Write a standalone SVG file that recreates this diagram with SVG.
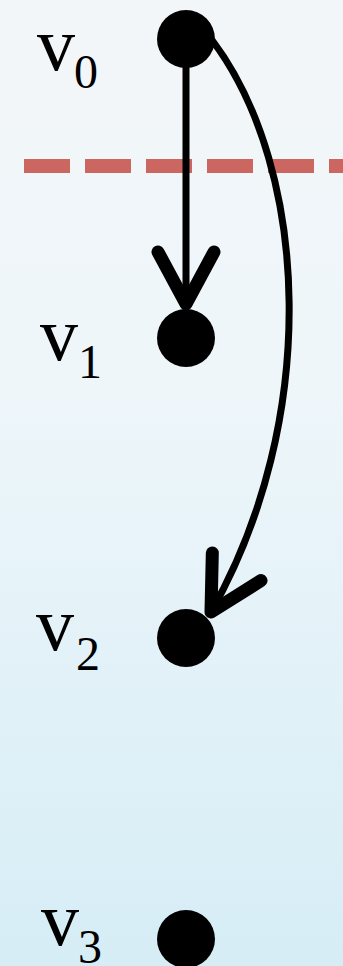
<svg xmlns="http://www.w3.org/2000/svg" width="343" height="966" viewBox="0 0 343 966">
<defs>
<linearGradient id="bg" x1="0" y1="0" x2="0" y2="1">
<stop offset="0" stop-color="#f3f6f8"/>
<stop offset="0.4" stop-color="#eef6fa"/>
<stop offset="1" stop-color="#d6edf6"/>
</linearGradient>
<marker id="arrow" markerUnits="userSpaceOnUse" viewBox="-70 -40 80 80" markerWidth="80" markerHeight="80" refX="0" refY="0" orient="auto">
<path d="M-52,-28 L0,0 L-52,28" fill="none" stroke="#000" stroke-width="13" stroke-linecap="round" stroke-linejoin="round"/>
</marker>
<style>
.node{fill:#000}
.edge{fill:none;stroke:#000;stroke-width:7}
.lbl{font-family:"Liberation Serif","Times New Roman",serif;font-size:76px;fill:#000}
.sub{font-family:"Liberation Serif","Times New Roman",serif;font-size:48px;fill:#000}
.cut{stroke:#cc6660;stroke-width:14;stroke-dasharray:46 15;fill:none}
</style>
</defs>
<rect width="343" height="966" fill="url(#bg)"/>
<line class="cut" x1="24" y1="166" x2="343" y2="166"/>
<g id="connectors">
<path class="edge" d="M186,40 L186,304" marker-end="url(#arrow)"/>
<path class="edge" d="M212,40 C310,170 320,420 211,612" marker-end="url(#arrow)"/>
</g>
<g id="v0"><circle class="node" cx="186" cy="39" r="29"/><text class="lbl" x="37" y="70">v</text><text class="sub" x="74" y="88">0</text></g>
<g id="v1"><circle class="node" cx="186" cy="338" r="29"/><text class="lbl" x="40" y="360">v</text><text class="sub" x="78" y="378">1</text></g>
<g id="v2"><circle class="node" cx="186" cy="638" r="29"/><text class="lbl" x="36" y="650">v</text><text class="sub" x="76" y="670">2</text></g>
<g id="v3"><circle class="node" cx="186" cy="939" r="29"/><text class="lbl" x="41" y="945">v</text><text class="sub" x="78" y="963">3</text></g>
</svg>
